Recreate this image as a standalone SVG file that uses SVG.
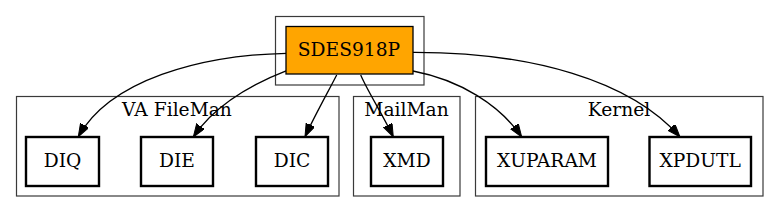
<svg xmlns="http://www.w3.org/2000/svg" width="780" height="212" viewBox="0 0 780 212">
<style>
text{font-family:"DejaVu Serif","Liberation Serif",serif;font-size:18.67px;text-anchor:middle;fill:#000}
.cl{fill:none;stroke:#3a3a3a;stroke-width:1.2}
.nd{fill:#fff;stroke:#000;stroke-width:2.4}
.e{fill:none;stroke:#000;stroke-width:1.3;marker-end:url(#ah)}
</style>
<defs>
<marker id="ah" markerUnits="userSpaceOnUse" markerWidth="14" markerHeight="10" refX="13" refY="4.7" orient="auto">
<path d="M0,0 L13,4.7 L0,9.4 z" fill="#000" stroke="#000" stroke-width="1"/>
</marker>
</defs>
<g id="clusters">
<rect class="cl" x="275.5" y="16.5" width="148.5" height="68.5"/>
<rect class="cl" x="16.5" y="96.5" width="322.5" height="99.5"/>
<text x="177" y="115.5">VA FileMan</text>
<rect class="cl" x="353.5" y="96.5" width="106.5" height="99.5"/>
<text x="406.5" y="115.5">MailMan</text>
<rect class="cl" x="475.5" y="96.5" width="287.5" height="99.5"/>
<text x="619" y="115.5">Kernel</text>
</g>
<g id="edges">
<path class="e" d="M286.7,53.3 C200,55 110,80 78.3,136.7"/>
<path class="e" d="M286.7,70.7 C250,85 215,105 193.3,137"/>
<path class="e" d="M336.7,75 C328,92 315,115 305,136.7"/>
<path class="e" d="M360.7,75 C368,92 383,115 393.3,137"/>
<path class="e" d="M413,71 C460,80 500,105 521.7,137"/>
<path class="e" d="M413,52.3 C530,52 630,80 680,137"/>
</g>
<g id="SDES918P">
<rect x="286" y="26.5" width="127" height="47.5" fill="#ffa500" stroke="#000" stroke-width="1.3"/>
<text x="349" y="56">SDES918P</text>
</g>
<g id="DIQ"><rect class="nd" x="26" y="137" width="73" height="49"/><text x="62.5" y="166.5">DIQ</text></g>
<g id="DIE"><rect class="nd" x="141" y="137" width="72" height="49"/><text x="177" y="166.5">DIE</text></g>
<g id="DIC"><rect class="nd" x="256" y="137" width="72" height="49"/><text x="292" y="166.5">DIC</text></g>
<g id="XMD"><rect class="nd" x="371" y="137" width="72" height="49"/><text x="407" y="166.5">XMD</text></g>
<g id="XUPARAM"><rect class="nd" x="486" y="137" width="122" height="49"/><text x="547" y="166.5">XUPARAM</text></g>
<g id="XPDUTL"><rect class="nd" x="649.5" y="137" width="101.5" height="49"/><text x="700.2" y="166.5">XPDUTL</text></g>
</svg>
